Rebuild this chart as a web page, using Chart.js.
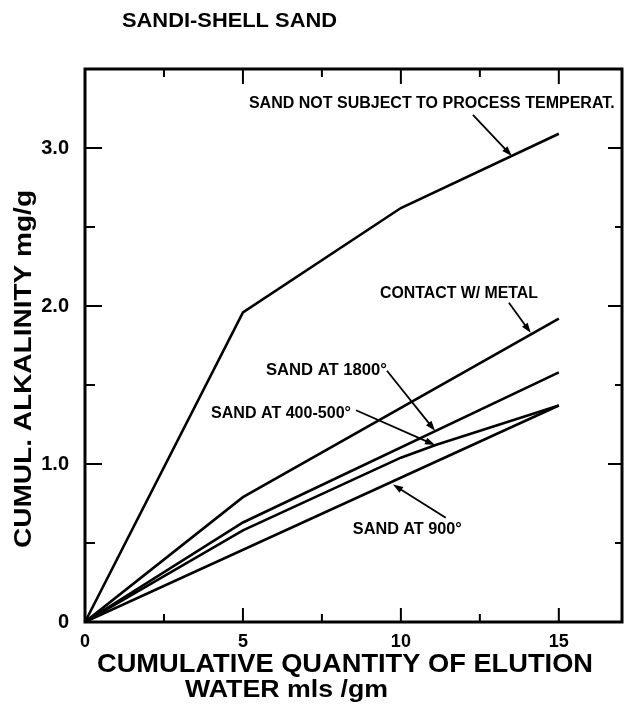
<!DOCTYPE html>
<html>
<head>
<meta charset="utf-8">
<script src="https://cdn.jsdelivr.net/npm/chart.js@4.4.1/dist/chart.umd.min.js"></script>
<style>
  html, body { margin: 0; padding: 0; background: #fff; }
  #wrap { width: 634px; height: 709px; position: relative; }
</style>
</head>
<body>
<div id="wrap"><canvas id="alkChart"></canvas></div>
<script>
// values (x = mls/gm, y = mg/g)
const notSubjectX = [0, 5, 10, 15];
const notSubjectY = [0, 1.96, 2.62, 3.09];
const contactX = [0, 5, 15];
const contactY = [0, 0.79, 1.92];
const sand1800X = [0, 5, 15];
const sand1800Y = [0, 0.63, 1.58];
const sand400X = [0, 5, 10, 11.1, 15];
const sand400Y = [0, 0.58, 1.04, 1.12, 1.37];
const sand900X = [0, 15];
const sand900Y = [0, 1.37];

// ticks
const xTickValues = [0, 2.5, 5, 7.5, 10, 12.5, 15];
const xLabelValues = [0, 5, 10, 15];
const xLabelText = ['0', '5', '10', '15'];
const yTickValues = [0, 0.5, 1, 1.5, 2, 2.5, 3, 3.5];
const yLabelValues = [0, 1, 2, 3];
const yLabelText = ['0', '1.0', '2.0', '3.0'];

// curve labels: text, left x, right x, baseline y (data units) and arrow from -> to
const curveNotes = [
    { text: 'SAND NOT SUBJECT TO PROCESS TEMPERAT.', x0: 5.19, x1: 16.77, y: 3.253, from: [12.28, 3.21], to: [13.51, 2.95] },
    { text: 'CONTACT W/ METAL', x0: 9.34, x1: 14.34, y: 2.05, from: [13.42, 2.02], to: [14.11, 1.83] },
    { text: 'SAND AT 1800°', x0: 5.73, x1: 9.56, y: 1.563, from: [9.56, 1.59], to: [11.08, 1.21] },
    { text: 'SAND AT 400-500°', x0: 3.99, x1: 8.42, y: 1.291, from: [8.58, 1.34], to: [11.08, 1.12] },
    { text: 'SAND AT 900°', x0: 8.48, x1: 11.93, y: 0.557, from: [11.42, 0.66], to: [9.75, 0.87] }
];

const FONT = '"Liberation Sans", Arial, sans-serif';

function pts(xs, ys) {
    return xs.map((x, i) => ({ x: x, y: ys[i] }));
}

// draw text stretched/squeezed to an exact width
function fitText(ctx, text, x0, x1, base, size) {
    ctx.font = 'bold ' + size + 'px ' + FONT;
    const w = ctx.measureText(text).width;
    ctx.save();
    ctx.translate(x0, base);
    ctx.scale((x1 - x0) / w, 1);
    ctx.textBaseline = 'alphabetic';
    ctx.textAlign = 'left';
    ctx.fillText(text, 0, 0);
    ctx.restore();
}

function arrow(ctx, ax, ay, bx, by) {
    const ang = Math.atan2(by - ay, bx - ax);
    const len = 10, half = 3.5;
    ctx.beginPath();
    ctx.moveTo(ax, ay);
    ctx.lineTo(bx - Math.cos(ang) * len * 0.6, by - Math.sin(ang) * len * 0.6);
    ctx.lineWidth = 1.8;
    ctx.stroke();
    ctx.beginPath();
    ctx.moveTo(bx, by);
    ctx.lineTo(bx - Math.cos(ang) * len + Math.sin(ang) * half, by - Math.sin(ang) * len - Math.cos(ang) * half);
    ctx.lineTo(bx - Math.cos(ang) * len - Math.sin(ang) * half, by - Math.sin(ang) * len + Math.cos(ang) * half);
    ctx.closePath();
    ctx.fill();
}

// frame, inward ticks, titles and curve notes
const drawExtras = {
    id: 'drawExtras',
    afterDraw(chart) {
        const { ctx, chartArea: a, scales: { x, y } } = chart;
        ctx.save();
        ctx.strokeStyle = '#000';
        ctx.fillStyle = '#000';
        ctx.lineWidth = 3;
        ctx.strokeRect(a.left, a.top, a.right - a.left, a.bottom - a.top);

        ctx.lineWidth = 2;
        ctx.beginPath();
        xTickValues.forEach(v => {
            if (v === 0) return;
            const px = x.getPixelForValue(v);
            const major = v % 5 === 0;
            ctx.moveTo(px, a.bottom);
            ctx.lineTo(px, a.bottom - (major ? 14 : 8));
            ctx.moveTo(px, a.top);
            ctx.lineTo(px, a.top + (major ? 15 : 8));
        });
        yTickValues.forEach(v => {
            if (v === 0 || v === 3.5) return;
            const py = y.getPixelForValue(v);
            const major = Number.isInteger(v);
            ctx.moveTo(a.left, py);
            ctx.lineTo(a.left + (major ? 17 : 10), py);
            ctx.moveTo(a.right, py);
            ctx.lineTo(a.right - (major ? 14 : 7), py);
        });
        ctx.stroke();

        // titles
        fitText(ctx, 'SANDI-SHELL SAND', 122, 337, 27, 21);
        fitText(ctx, 'CUMULATIVE QUANTITY OF ELUTION', 97, 593, 672, 25);
        fitText(ctx, 'WATER mls /gm', 185, 388, 697, 24);
        ctx.save();
        ctx.translate(31, 548);
        ctx.rotate(-Math.PI / 2);
        fitText(ctx, 'CUMUL. ALKALINITY mg/g', 0, 358, 0, 24);
        ctx.restore();

        // curve notes
        curveNotes.forEach(n => {
            fitText(ctx, n.text, x.getPixelForValue(n.x0), x.getPixelForValue(n.x1), y.getPixelForValue(n.y), 16);
            arrow(ctx, x.getPixelForValue(n.from[0]), y.getPixelForValue(n.from[1]),
                x.getPixelForValue(n.to[0]), y.getPixelForValue(n.to[1]));
        });
        ctx.restore();
    }
};

const lineStyle = { borderColor: '#000', borderWidth: 2.6, pointRadius: 0, tension: 0, fill: false };

new Chart(document.getElementById('alkChart').getContext('2d'), {
    type: 'line',
    data: {
        datasets: [
            { label: 'Sand not subject to process temperat.', data: pts(notSubjectX, notSubjectY), ...lineStyle },
            { label: 'Contact w/ metal', data: pts(contactX, contactY), ...lineStyle },
            { label: 'Sand at 1800°', data: pts(sand1800X, sand1800Y), ...lineStyle },
            { label: 'Sand at 400-500°', data: pts(sand400X, sand400Y), ...lineStyle },
            { label: 'Sand at 900°', data: pts(sand900X, sand900Y), ...lineStyle }
        ]
    },
    options: {
        responsive: true,
        maintainAspectRatio: false,
        animation: false,
        layout: { padding: { top: 69, right: 12, left: 0, bottom: 0 } },
        plugins: { legend: { display: false }, tooltip: { enabled: false } },
        scales: {
            x: {
                type: 'linear',
                min: 0,
                max: 17,
                afterFit: s => { s.height = 87; },
                afterBuildTicks: s => { s.ticks = xTickValues.map(v => ({ value: v })); },
                grid: { display: false },
                border: { display: false },
                ticks: {
                    color: '#000',
                    padding: 1,
                    maxRotation: 0,
                    autoSkip: false,
                    font: { family: FONT, size: 18, weight: 'bold' },
                    callback: v => {
                        const i = xLabelValues.indexOf(v);
                        return i >= 0 ? xLabelText[i] : '';
                    }
                }
            },
            y: {
                min: 0,
                max: 3.5,
                afterFit: s => { s.width = 85; },
                afterBuildTicks: s => { s.ticks = yTickValues.map(v => ({ value: v })); },
                grid: { display: false },
                border: { display: false },
                ticks: {
                    color: '#000',
                    padding: 8,
                    autoSkip: false,
                    font: { family: FONT, size: 20, weight: 'bold' },
                    callback: v => {
                        const i = yLabelValues.indexOf(v);
                        return i >= 0 ? yLabelText[i] : '';
                    }
                }
            }
        }
    },
    plugins: [drawExtras]
});
</script>
</body>
</html>
